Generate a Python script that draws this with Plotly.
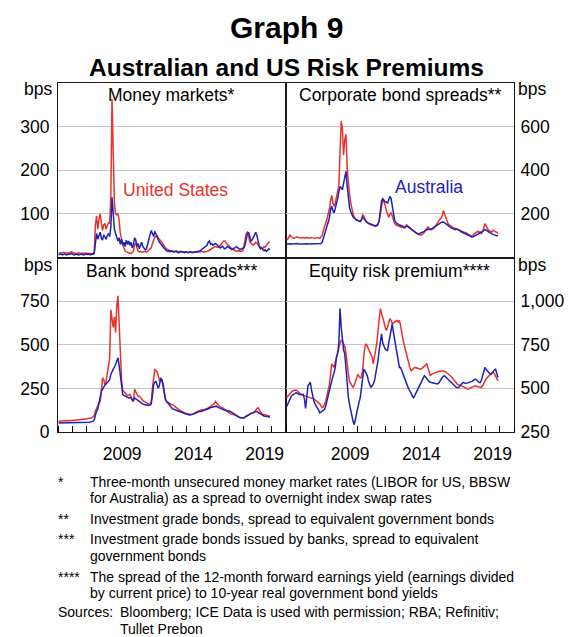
import numpy as np
import plotly.graph_objects as go

# ---------------- DATA (monthly, Jan 2005 - Nov 2019) ----------------
start_year = 2005
n_months = 179

mm_us = [11,10,11,10,12,11,10,11,10,11,12,13,
         11,10,10,9,10,11,10,9,10,9,10,10,
         9,10,9,9,8,9,12,75,95,65,88,100,
         80,62,75,78,65,75,80,78,140,364,195,125,
         100,98,100,85,55,38,30,22,15,13,12,11,
         10,9,12,15,30,32,22,15,13,14,12,13,
         13,14,12,15,17,20,22,32,40,47,48,50,
         45,40,38,35,30,27,22,20,18,15,14,16,
         15,14,15,14,13,13,14,14,13,12,13,13,
         12,12,11,12,11,12,11,12,13,14,14,13,
         14,13,12,13,13,14,15,17,20,22,23,24,
         25,24,23,24,27,30,35,38,38,32,30,28,
         24,22,20,18,16,15,14,15,16,14,14,15,
         25,45,55,58,50,36,32,30,28,32,35,33,
         28,25,24,22,20,25,24,28,32,35,35]
mm_au = [6,7,8,6,7,8,7,6,8,7,8,9,
         7,6,7,8,7,6,7,8,7,6,7,8,
         7,8,7,6,8,7,9,35,55,42,50,58,
         45,40,52,48,42,50,55,48,70,138,85,65,
         55,48,38,45,30,42,28,35,25,40,30,38,
         28,35,22,30,45,40,25,32,20,28,35,25,
         22,18,20,30,38,50,62,55,48,60,52,45,
         40,35,30,28,24,20,18,15,14,16,13,15,
         14,12,13,15,12,11,12,13,14,12,11,13,
         12,11,12,13,12,11,12,13,12,14,13,15,
         16,18,20,22,25,28,35,38,30,32,28,30,
         32,30,28,25,22,24,26,22,20,22,25,24,
         22,20,18,20,22,24,25,22,20,18,20,22,
         22,28,42,55,58,45,38,40,45,52,58,50,
         35,25,20,22,18,15,18,14,16,20,18]

corp_us = [80,85,95,105,95,90,88,90,92,95,92,90,
           88,90,92,90,88,92,90,88,90,92,90,88,
           88,90,92,90,88,95,100,125,140,150,175,200,
           220,260,285,250,235,250,275,290,330,480,625,590,
           470,540,565,410,340,290,250,220,200,185,175,170,
           170,168,165,175,195,190,175,165,160,155,152,150,
           148,146,144,142,145,150,170,210,250,265,255,240,
           215,195,185,200,205,190,170,155,150,148,145,145,
           140,138,140,135,138,150,145,140,135,130,125,120,
           115,112,110,105,105,102,104,108,115,125,135,140,
           135,130,128,130,135,140,150,160,170,175,180,190,
           215,200,175,160,155,150,145,140,138,136,134,133,
           132,128,125,122,120,118,115,112,110,106,104,100,
           98,100,110,112,115,120,115,118,110,118,135,155,
           145,130,125,122,120,118,125,120,118,115,110]
corp_au = [62,63,62,64,63,62,63,62,63,64,62,63,
           63,62,62,63,62,63,62,62,63,62,63,64,
           63,64,63,62,63,64,70,90,110,120,140,160,
           180,220,235,215,205,225,245,270,300,325,320,310,
           340,380,395,330,260,230,210,195,185,180,175,172,
           170,168,165,170,185,180,170,165,160,158,155,152,
           150,148,147,145,148,155,170,220,260,270,260,255,
           255,248,265,280,270,230,195,170,160,155,150,148,
           148,145,142,140,140,145,142,138,135,130,125,120,
           115,112,110,108,110,112,115,118,120,125,128,130,
           130,128,132,135,138,140,145,150,155,158,160,162,
           163,160,155,150,145,140,138,135,132,130,128,130,
           128,125,122,118,115,112,110,108,105,102,100,96,
           94,95,98,100,104,108,110,112,115,118,125,128,
           125,120,118,115,110,108,105,102,100,100,100]

bank_us = [62,63,64,63,64,65,64,65,66,65,66,67,
           67,68,68,69,70,70,71,72,72,73,73,74,
           74,75,76,78,82,88,95,120,140,150,165,175,
           230,310,300,270,290,340,360,420,700,630,600,660,
           570,720,780,620,450,300,240,230,225,215,210,215,
           215,200,180,175,245,230,215,205,205,200,190,180,
           175,170,165,162,160,157,175,250,330,360,350,345,
           320,295,290,300,280,220,190,175,170,165,160,158,
           157,150,145,140,135,130,125,120,115,112,110,108,
           105,102,100,100,100,102,105,110,115,118,120,122,
           125,128,126,128,130,135,138,142,148,150,155,162,
           175,165,158,150,145,142,140,135,128,122,118,112,
           108,104,100,100,98,96,92,88,85,82,80,80,
           82,85,90,95,100,105,108,110,112,118,125,135,
           140,125,110,105,102,100,98,96,94,92,90]
bank_au = [52,52,53,52,53,52,53,52,53,52,53,53,
           53,52,53,52,53,53,52,53,53,52,53,54,
           54,55,56,58,60,62,70,100,120,130,160,200,
           235,245,260,270,275,285,290,300,330,350,360,370,
           390,410,425,380,330,260,215,210,205,200,198,195,
           198,195,185,180,195,190,180,175,175,170,165,160,
           157,155,155,152,152,155,160,210,270,285,290,270,
           250,270,310,300,260,215,185,175,165,155,145,138,
           132,130,128,126,124,120,118,115,112,108,105,102,
           100,100,98,98,100,102,105,108,110,112,115,118,
           118,120,122,125,128,130,133,136,140,142,145,148,
           150,148,142,138,135,132,130,128,125,122,121,120,
           120,115,110,105,100,96,92,88,85,82,80,80,
           80,85,90,95,100,102,105,108,110,112,115,118,
           112,108,100,98,95,92,90,88,88,87,86]

erp_us = [447,455,465,475,480,485,488,490,490,485,478,470,
          465,462,460,458,456,455,452,450,448,447,445,440,
          435,430,425,418,410,400,390,395,410,427,460,490,
          520,580,640,630,620,650,680,697,730,760,775,770,
          755,740,700,620,580,540,525,515,505,520,540,560,
          580,570,560,565,600,680,740,755,740,717,700,690,
          680,640,680,717,760,830,900,957,930,910,880,850,
          832,850,870,900,890,870,875,880,885,890,880,890,
          860,813,780,750,720,697,670,640,615,600,610,615,
          620,618,615,612,610,610,615,620,630,635,640,620,
          600,572,580,585,588,590,592,595,598,600,600,600,
          600,598,595,590,585,580,575,565,555,545,535,525,
          522,520,518,515,512,510,505,500,495,495,500,505,
          508,510,512,515,512,510,508,505,505,515,530,545,
          555,562,570,578,585,590,590,585,570,555,543]
erp_au = [395,410,430,447,455,462,468,472,475,472,468,465,
          465,466,465,440,385,450,515,525,535,490,455,427,
          410,400,390,375,360,365,370,375,380,400,430,465,
          490,520,543,570,590,620,678,700,760,958,850,755,
          720,697,600,505,450,408,370,330,310,292,330,370,
          390,420,447,500,560,610,600,585,572,540,520,505,
          515,525,543,580,620,660,720,770,813,760,735,725,
          720,717,760,800,840,870,820,780,755,700,660,620,
          620,600,580,560,543,525,510,495,485,470,455,447,
          460,475,490,505,520,535,550,562,572,565,555,545,
          540,535,533,530,528,526,525,525,530,540,555,565,
          570,572,565,560,555,550,543,535,525,520,512,505,
          505,505,515,525,530,533,530,528,530,532,533,535,
          540,545,550,553,548,540,535,533,545,570,600,620,
          610,600,590,585,580,590,600,605,610,590,562]

year_labels = ["2009", "2014", "2019"]
year_label_pos = [2009.5, 2014.5, 2019.5]
panel_titles = ["Money markets*", "Corporate bond spreads**",
                "Bank bond spreads***", "Equity risk premium****"]

footnotes = [
    ("*", ["Three-month unsecured money market rates (LIBOR for US, BBSW",
           "for Australia) as a spread to overnight index swap rates"]),
    ("**", ["Investment grade bonds, spread to equivalent government bonds"]),
    ("***", ["Investment grade bonds issued by banks, spread to equivalent",
             "government bonds"]),
    ("****", ["The spread of the 12-month forward earnings yield (earnings divided",
              "by current price) to 10-year real government bond yields"]),
]
sources = ["Bloomberg; ICE Data is used with permission; RBA; Refinitiv;",
           "Tullet Prebon"]

# ---------------- FIGURE ----------------
x = start_year + (np.arange(n_months) + 0.5) / 12.0

RED = "#e6332b"
BLUE = "#1e22b6"
FONT = "Arial, Liberation Sans, sans-serif"
OFF = 8                      # page body margin
W, H = 577 - OFF, 637 - OFF  # figure size
# reference-pixel frame: left 48, right 522, top 83, bottom 432
ML, MT = 48 - OFF, 83 - OFF
MR, MB = W - (522 - OFF), H - (432 - OFF)
PW, PH = 522 - 48, 432 - 83


def fx(px):
    return (px - 48) / PW


def fy(py):
    return (432 - py) / PH


fig = go.Figure()
panels = [("x", "y", mm_us, mm_au), ("x2", "y2", corp_us, corp_au),
          ("x3", "y3", bank_us, bank_au), ("x4", "y4", erp_us, erp_au)]
for xa, ya, us, au in panels:
    fig.add_trace(go.Scatter(x=x, y=us, xaxis=xa, yaxis=ya, mode="lines",
                             line=dict(color=RED, width=1.5), showlegend=False,
                             hoverinfo="skip"))
    fig.add_trace(go.Scatter(x=x, y=au, xaxis=xa, yaxis=ya, mode="lines",
                             line=dict(color=BLUE, width=1.5), showlegend=False,
                             hoverinfo="skip"))

TS = 17.5
tickfont = dict(family=FONT, size=TS, color="#000")
axline = dict(showline=True, mirror=True, linecolor="#1a1a1a", linewidth=1)

xbase = dict(range=[2005, 2021], showgrid=False, zeroline=False, **axline)
xtop = dict(xbase, showticklabels=False, ticks="")
xbot = dict(xbase, tickmode="array", tickvals=year_label_pos, ticktext=year_labels,
            ticks="", tickfont=tickfont, ticklabelstandoff=6,
            minor=dict(ticks="inside", ticklen=6, tickcolor="#000", tick0=2005,
                       dtick=1, showgrid=False))

ybase = dict(showgrid=True, gridcolor="#c4c4c4", gridwidth=1, zeroline=False,
             ticks="", tickfont=tickfont, tickmode="array", **axline)

fig.update_layout(
    width=W, height=H, margin=dict(l=ML, r=MR, t=MT, b=MB),
    paper_bgcolor="white", plot_bgcolor="white",
    font=dict(family=FONT, color="#000"),
    xaxis=dict(xtop, domain=[0, 0.5], anchor="y"),
    xaxis2=dict(xtop, domain=[0.5, 1], anchor="y2"),
    xaxis3=dict(xbot, domain=[0, 0.5], anchor="y3"),
    xaxis4=dict(xbot, domain=[0.5, 1], anchor="y4"),
    yaxis=dict(ybase, domain=[0.5, 1], range=[0, 400], tickvals=[100, 200, 300],
               anchor="x", ticklabelstandoff=4),
    yaxis2=dict(ybase, domain=[0.5, 1], range=[0, 800], tickvals=[200, 400, 600],
                anchor="x2", side="right", ticklabelstandoff=2),
    yaxis3=dict(ybase, domain=[0, 0.5], range=[0, 1000], tickvals=[0, 250, 500, 750],
                anchor="x3", ticklabelstandoff=4),
    yaxis4=dict(ybase, domain=[0, 0.5], range=[250, 1250],
                tickvals=[250, 500, 750, 1000], tickformat=",",
                anchor="x4", side="right", ticklabelstandoff=2),
)

ann = []


def add(text, px, py, size=TS, xanchor="center", bold=False, color="#000"):
    if bold:
        text = "<b>" + text + "</b>"
    ann.append(dict(text=text, x=fx(px), y=fy(py), xref="paper", yref="paper",
                    xanchor=xanchor, yanchor="middle", showarrow=False,
                    font=dict(family=FONT, size=size, color=color)))


add("Graph 9", 285, 27, size=30, bold=True)
add("Australian and US Risk Premiums", 285, 67, size=24.5, bold=True)

add(panel_titles[0], 166, 95)
add(panel_titles[1], 404, 95)
add(panel_titles[2], 166, 271)
add(panel_titles[3], 403, 271)

add("United States", 170, 190, color=RED)
add("Australia", 434, 187, color=BLUE)

add("bps", 44, 89, xanchor="right")
add("bps", 524, 89, xanchor="left")
add("bps", 44, 265, xanchor="right")
add("bps", 524, 265, xanchor="left")

FS = 14
fn_y = [[481.7, 498.3], [519], [539, 555.7], [576.7, 593.3]]
for (mark, lines), ys in zip(footnotes, fn_y):
    add(mark, 46, ys[0], size=FS, xanchor="left")
    for line, yy in zip(lines, ys):
        add(line, 79.3, yy, size=FS, xanchor="left")
add("Sources:", 46, 612, size=FS, xanchor="left")
add(sources[0], 110, 612, size=FS, xanchor="left")
add(sources[1], 110, 628.6, size=FS, xanchor="left")

fig.update_layout(annotations=ann)
fig.write_html("out.html")
